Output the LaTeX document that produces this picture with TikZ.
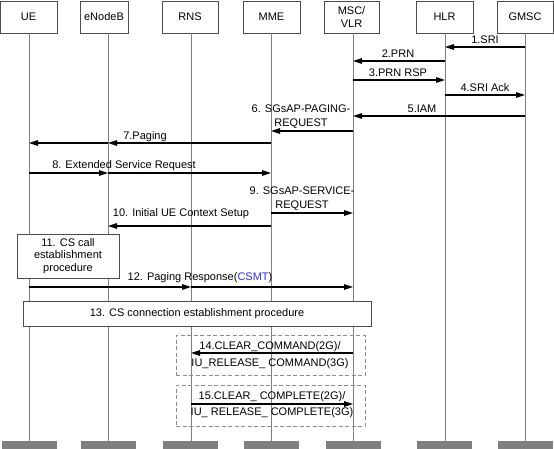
\documentclass[tikz,border=0pt]{standalone}
\usepackage{fontspec}
\setmainfont{Liberation Sans}
\usetikzlibrary{arrows.meta}
\definecolor{lifegray}{HTML}{808080}
\definecolor{csmtblue}{HTML}{2F2FFF}
\begin{document}
\begin{tikzpicture}[x=1pt,y=-1pt,
 every node/.style={font=\fontsize{11}{13.5}\selectfont},
 actor/.style={draw=black!70, line width=0.8pt, fill=white, inner sep=0pt, minimum height=32pt, align=center},
 life/.style={draw=lifegray, line width=1pt},
 msg/.style={draw=black, line width=1.2pt, -{Triangle[length=9pt,width=5.5pt]}},
 lbl/.style={inner sep=0pt, anchor=base},
 mlbl/.style={inner sep=0pt, anchor=south, align=center},
 proc/.style={draw=black!70, line width=0.8pt, fill=white, inner sep=0pt, align=center},
 dbox/.style={draw=black!45, line width=0.8pt, dash pattern=on 4pt off 2.5pt, inner sep=0pt},
 bar/.style={fill=lifegray, inner sep=0pt, minimum width=55pt, minimum height=8pt},
]
\useasboundingbox (0,0) rectangle (554,449);
% actors
\node[actor, minimum width=57pt] (ue) at (28.5,17) {UE};
\node[actor, minimum width=48pt] (enb) at (104,17) {eNodeB};
\node[actor, minimum width=56pt] (rns) at (190,17) {RNS};
\node[actor, minimum width=57pt] (mme) at (271.5,17) {MME};
\node[actor, minimum width=55pt] (msc) at (351.5,17) {MSC/\\VLR};
\node[actor, minimum width=57pt] (hlr) at (444.5,17) {HLR};
\node[actor, minimum width=56pt] (gmsc) at (525,17) {GMSC};
% lifeline tops
\coordinate (lUE) at (29,33);
\coordinate (lENB) at (108,33);
\coordinate (lRNS) at (191,33);
\coordinate (lMME) at (271,33);
\coordinate (lMSC) at (353,33);
\coordinate (lHLR) at (445,33);
\coordinate (lGMSC) at (525,33);
% bottom bars
\node[bar] (bUE) at (29.5,445) {};
\node[bar] (bENB) at (108.5,445) {};
\node[bar] (bRNS) at (190.5,445) {};
\node[bar] (bMME) at (271.5,445) {};
\node[bar] (bMSC) at (353.5,445) {};
\node[bar] (bHLR) at (444.5,445) {};
\node[bar] (bGMSC) at (525.5,445) {};
% lifelines
\draw[life] (lUE) -- (lUE |- bUE.north);
\draw[life] (lENB) -- (lENB |- bENB.north);
\draw[life] (lRNS) -- (lRNS |- bRNS.north);
\draw[life] (lMME) -- (lMME |- bMME.north);
\draw[life] (lMSC) -- (lMSC |- bMSC.north);
\draw[life] (lHLR) -- (lHLR |- bHLR.north);
\draw[life] (lGMSC) -- (lGMSC |- bGMSC.north);
% procedure boxes
\node[proc, minimum width=102pt, minimum height=44pt, font=\fontsize{11}{12.5}\selectfont] (p11) at (68,256) {11. CS call\\establishment\\procedure};
\node[proc, minimum width=348pt, minimum height=25pt] (p13) at (197,313.5) {13. CS connection establishment procedure};
\node[dbox, minimum width=189pt, minimum height=40pt] (d14) at (270.5,355) {};
\node[dbox, minimum width=189pt, minimum height=41pt] (d15) at (270.5,405.5) {};
% messages
\draw[msg] (lGMSC |- 0,47) -- (lHLR |- 0,47);
\node[lbl] (t1) at (485,44) {1.SRI};
\draw[msg] (lHLR |- 0,61) -- (lMSC |- 0,61);
\node[lbl] (t2) at (398,58) {2.PRN};
\draw[msg] (lMSC |- 0,80) -- (lHLR |- 0,80);
\node[lbl] (t3) at (398,77) {3.PRN RSP};
\draw[msg] (lHLR |- 0,95) -- (lGMSC |- 0,95);
\node[lbl] (t4) at (485,92) {4.SRI Ack};
\draw[msg] (lGMSC |- 0,116) -- (lMSC |- 0,116);
\node[lbl] (t5) at (422,113) {5.IAM};
\draw[msg] (lMSC |- 0,131) -- (lMME |- 0,131);
\node[mlbl] (t6) at (301,128.5) {6. SGsAP-PAGING-\\REQUEST};
\draw[msg] (lMME |- 0,143) -- (lENB |- 0,143);
\draw[msg] (lENB |- 0,143) -- (lUE |- 0,143);
\node[lbl] (t7) at (145,140) {7.Paging};
\draw[msg] (lUE |- 0,173) -- (lENB |- 0,173);
\draw[msg] (lENB |- 0,173) -- (lMME |- 0,173);
\node[lbl] (t8) at (124,169) {8. Extended Service Request};
\draw[msg] (lMME |- 0,213) -- (lMSC |- 0,213);
\node[mlbl] (t9) at (302,210.5) {9. SGsAP-SERVICE-\\REQUEST};
\draw[msg] (lMME |- 0,226) -- (lENB |- 0,226);
\node[lbl] (t10) at (181,217) {10. Initial UE Context Setup};
\draw[msg] (lUE |- 0,287) -- (lRNS |- 0,287);
\draw[msg] (lRNS |- 0,287) -- (lMSC |- 0,287);
\node[lbl] (t12) at (200,280) {12. Paging Response(\textcolor{csmtblue}{CSMT})};
\draw[msg] (lMSC |- 0,353) -- (lRNS |- 0,353);
\node[mlbl, font=\fontsize{11}{17}\selectfont] (t14) at (270,368.5) {14.CLEAR\_COMMAND(2G)/\\IU\_RELEASE\_ COMMAND(3G)};
\draw[msg] (lRNS |- 0,404) -- (lMSC |- 0,404);
\node[mlbl, font=\fontsize{11}{16}\selectfont] (t15) at (272,417.5) {15.CLEAR\_ COMPLETE(2G)/\\IU\_ RELEASE\_ COMPLETE(3G)};
\end{tikzpicture}
\end{document}
